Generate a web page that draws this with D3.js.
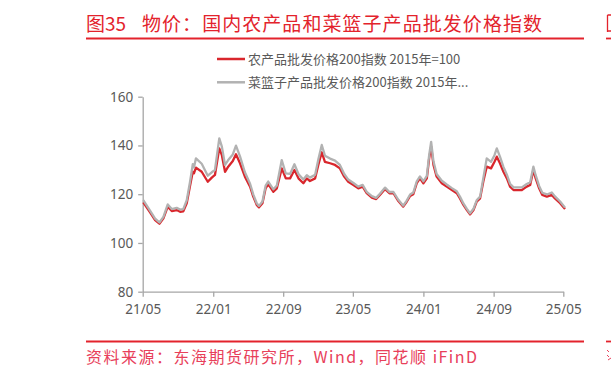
<!DOCTYPE html>
<html>
<head>
<meta charset="utf-8">
<script src="https://cdn.jsdelivr.net/npm/d3@7/dist/d3.min.js"></script>
<style>
    body { margin: 0; background: #fff; }
    svg { display: block; }
    .axis text { font-family: "Noto Sans", sans-serif; font-size: 13.5px; fill: #595959; }
    .axis path, .axis line { stroke: #a6a6a6; stroke-width: 1.3px; }
</style>
</head>
<body>
<div id="chart"></div>
<script>

const dates = [
    "2021-05-03", "2021-05-26", "2021-06-13", "2021-06-28", "2021-07-12", "2021-07-27", "2021-08-10", "2021-08-27",
    "2021-09-08", "2021-09-19", "2021-10-01", "2021-10-12", "2021-10-22", "2021-10-26", "2021-11-02", "2021-11-22",
    "2021-12-13", "2021-12-27", "2022-01-07", "2022-01-22", "2022-01-31", "2022-02-11", "2022-02-22", "2022-03-10",
    "2022-03-21", "2022-04-04", "2022-04-21", "2022-05-09", "2022-05-20", "2022-06-01", "2022-06-09", "2022-06-21",
    "2022-07-02", "2022-07-11", "2022-07-29", "2022-08-10", "2022-08-27", "2022-09-10", "2022-09-25", "2022-10-10",
    "2022-10-24", "2022-11-10", "2022-11-22", "2022-12-03", "2022-12-21", "2023-01-01", "2023-01-13", "2023-01-24",
    "2023-02-11", "2023-02-28", "2023-03-17", "2023-04-01", "2023-04-15", "2023-05-03", "2023-05-20", "2023-06-04",
    "2023-06-18", "2023-07-06", "2023-07-21", "2023-08-03", "2023-08-21", "2023-09-05", "2023-09-19", "2023-10-06",
    "2023-10-23", "2023-11-04", "2023-11-16", "2023-11-27", "2023-12-09", "2023-12-20", "2024-01-01", "2024-01-13",
    "2024-01-21", "2024-01-28", "2024-02-05", "2024-02-16", "2024-03-05", "2024-03-22", "2024-04-09", "2024-04-26",
    "2024-05-07", "2024-05-19", "2024-05-31", "2024-06-11", "2024-06-23", "2024-07-04", "2024-07-16", "2024-07-27",
    "2024-08-08", "2024-08-23", "2024-09-04", "2024-09-12", "2024-09-23", "2024-10-05", "2024-10-17", "2024-10-28",
    "2024-11-09", "2024-11-20", "2024-12-08", "2024-12-25", "2025-01-06", "2025-01-17", "2025-01-25", "2025-02-06",
    "2025-02-17", "2025-03-05", "2025-03-22", "2025-04-02", "2025-04-20", "2025-05-07"
];

// 农产品批发价格200指数
const agriIndex = [
    116.7, 112.6, 109.4, 107.9, 110.1, 114.9, 113.1, 113.5, 112.8, 113.0, 116.3, 123.1, 129.2, 128.6, 130.9, 129.2,
    125.1, 126.8, 127.9, 138.8, 136.0, 129.2, 131.3, 133.6, 136.4, 132.7, 127.2, 123.1, 119.0, 115.6, 114.6, 116.3,
    122.4, 124.1, 121.0, 122.4, 130.6, 126.5, 126.5, 129.9, 126.5, 124.5, 126.5, 125.4, 126.5, 132.0, 137.2, 133.3,
    132.7, 132.0, 130.6, 127.2, 125.1, 123.8, 122.4, 123.1, 120.4, 118.6, 118.0, 119.7, 122.1, 120.4, 120.4, 117.2,
    114.9, 116.9, 119.3, 120.0, 124.5, 126.5, 124.5, 126.5, 134.7, 139.5, 132.0, 127.2, 124.5, 123.1, 121.7, 120.4,
    118.3, 115.6, 113.5, 111.7, 113.5, 116.9, 118.3, 125.1, 131.3, 130.6, 133.3, 135.4, 132.7, 129.2, 126.5, 123.1,
    121.7, 121.7, 121.7, 123.1, 123.8, 129.9, 126.5, 122.4, 119.7, 119.0, 119.7, 118.3, 116.3, 113.9
];

// 菜篮子产品批发价格200指数
const basketIndex = [
    117.6, 113.4, 110.0, 108.4, 110.7, 115.8, 113.9, 114.4, 113.7, 113.9, 117.5, 124.8, 132.3, 131.0, 134.7, 132.5,
    127.6, 129.0, 130.0, 142.9, 139.5, 132.0, 134.0, 136.3, 139.9, 135.5, 129.0, 124.3, 119.9, 116.3, 115.2, 117.0,
    123.5, 125.2, 122.0, 123.6, 134.0, 128.5, 128.3, 132.3, 128.3, 126.0, 127.8, 126.8, 128.0, 134.2, 140.2, 135.8,
    134.6, 133.8, 132.0, 128.3, 126.0, 124.6, 123.1, 123.8, 121.0, 119.2, 118.5, 120.2, 122.7, 120.9, 120.9, 117.7,
    115.3, 117.4, 119.9, 120.7, 125.3, 127.3, 125.3, 127.5, 136.0, 141.5, 133.5, 128.3, 125.5, 124.0, 122.5, 121.2,
    119.0, 116.2, 114.0, 112.2, 114.0, 117.5, 119.0, 126.5, 134.7, 133.3, 136.0, 138.8, 135.4, 131.2, 128.0, 124.3,
    122.8, 122.8, 122.8, 124.2, 124.9, 131.3, 127.8, 123.4, 120.6, 119.9, 120.7, 119.1, 117.0, 114.5
];

const seriesNames = ["农产品批发价格200指数 2015年=100", "菜篮子产品批发价格200指数 2015年..."];
const yTicks = [80, 100, 120, 140, 160];
const xTicks = ["2021-05-01", "2022-01-01", "2022-09-01", "2023-05-01", "2024-01-01", "2024-09-01", "2025-05-01"];

const colors = ["#d9262c", "#b2b2b2"];
const titleColor = "#e3232c";

const width = 611, height = 372;
const parse = d3.timeParse("%Y-%m-%d");

let rows = dates.map(function (d, i) {
    return {date: parse(d), agri: agriIndex[i], basket: basketIndex[i]};
});

let x = d3.scaleTime()
    .domain([parse(xTicks[0]), parse(xTicks[xTicks.length - 1])])
    .range([142.7, 563.3]);

let y = d3.scaleLinear()
    .domain([80, 160])
    .range([291.7, 96.7]);

const svg = d3.select("#chart")
    .append("svg")
    .attr("width", width)
    .attr("height", height);

// title + rules
svg.append("text")
    .attr("x", 86)
    .attr("y", 31)
    .style("font-family", "'Noto Sans CJK SC'")
    .style("font-size", "19px")
    .style("fill", titleColor)
    .text("图35");

svg.append("text")
    .attr("x", 142)
    .attr("y", 31)
    .attr("textLength", 400)
    .attr("lengthAdjust", "spacing")
    .style("font-family", "'Noto Sans CJK SC'")
    .style("font-size", "19px")
    .style("fill", titleColor)
    .text("物价：国内农产品和菜篮子产品批发价格指数");

[[86, 584], [606, 611]].forEach(function (s) {
    svg.append("line").attr("x1", s[0]).attr("x2", s[1]).attr("y1", 38.5).attr("y2", 38.5)
        .style("stroke", titleColor).style("stroke-width", 1.8);
    svg.append("line").attr("x1", s[0]).attr("x2", s[1]).attr("y1", 341.5).attr("y2", 341.5)
        .style("stroke", titleColor).style("stroke-width", 1.8);
});

// the clipped edge of the next figure's heading / source at the right border
svg.append("path")
    .attr("d", "M607.5,15V32M607.5,15H611M607.5,31H611")
    .style("fill", "none")
    .style("stroke", titleColor)
    .style("stroke-width", 1.3);

svg.append("path")
    .attr("d", "M607,350L609,352M607,355L609,357M608,360L611,358")
    .style("fill", "none")
    .style("stroke", "#e8405a")
    .style("stroke-width", 1);

svg.append("text")
    .attr("x", 86)
    .attr("y", 363)
    .attr("textLength", 391)
    .attr("lengthAdjust", "spacing")
    .style("font-family", "'Noto Sans CJK SC'")
    .style("font-size", "16px")
    .style("fill", "#e8405a")
    .text("资料来源：东海期货研究所，Wind，同花顺 iFinD");

// axes
svg.append("g")
    .attr("class", "y axis")
    .attr("transform", "translate(142.7,0)")
    .call(d3.axisLeft(y).tickValues(yTicks).tickSize(4.5).tickSizeOuter(0).tickPadding(5));

svg.append("g")
    .attr("class", "x axis")
    .attr("transform", "translate(0,291.7)")
    .call(d3.axisBottom(x)
        .tickValues(xTicks.map(parse))
        .tickFormat(d3.timeFormat("%y/%m"))
        .tickSize(5)
        .tickSizeOuter(0)
        .tickPadding(8));

// series
const line = d3.line()
    .x(function (d) { return x(d.date); });

["agri", "basket"].forEach(function (key, i) {
    svg.append("path")
        .datum(rows)
        .attr("fill", "none")
        .attr("stroke", colors[i])
        .attr("stroke-width", 2.3)
        .attr("stroke-linejoin", "round")
        .attr("d", line.y(function (d) { return y(d[key]); }));
});

// legend
let legend = svg.selectAll(".legend")
    .data(seriesNames)
    .enter().append("g")
    .attr("class", "legend")
    .attr("transform", function (d, i) {
        return "translate(217," + (59 + i * 23.3) + ")";
    });

legend.append("line")
    .attr("x1", 0)
    .attr("x2", 28)
    .style("stroke", function (d, i) { return colors[i]; })
    .style("stroke-width", 2.5);

legend.append("text")
    .attr("x", 31)
    .attr("dy", "0.35em")
    .style("font-family", "'Noto Sans CJK SC'")
    .style("font-size", "13px")
    .style("fill", "#595959")
    .text(function (d) { return d; });

</script>
</body>
</html>
